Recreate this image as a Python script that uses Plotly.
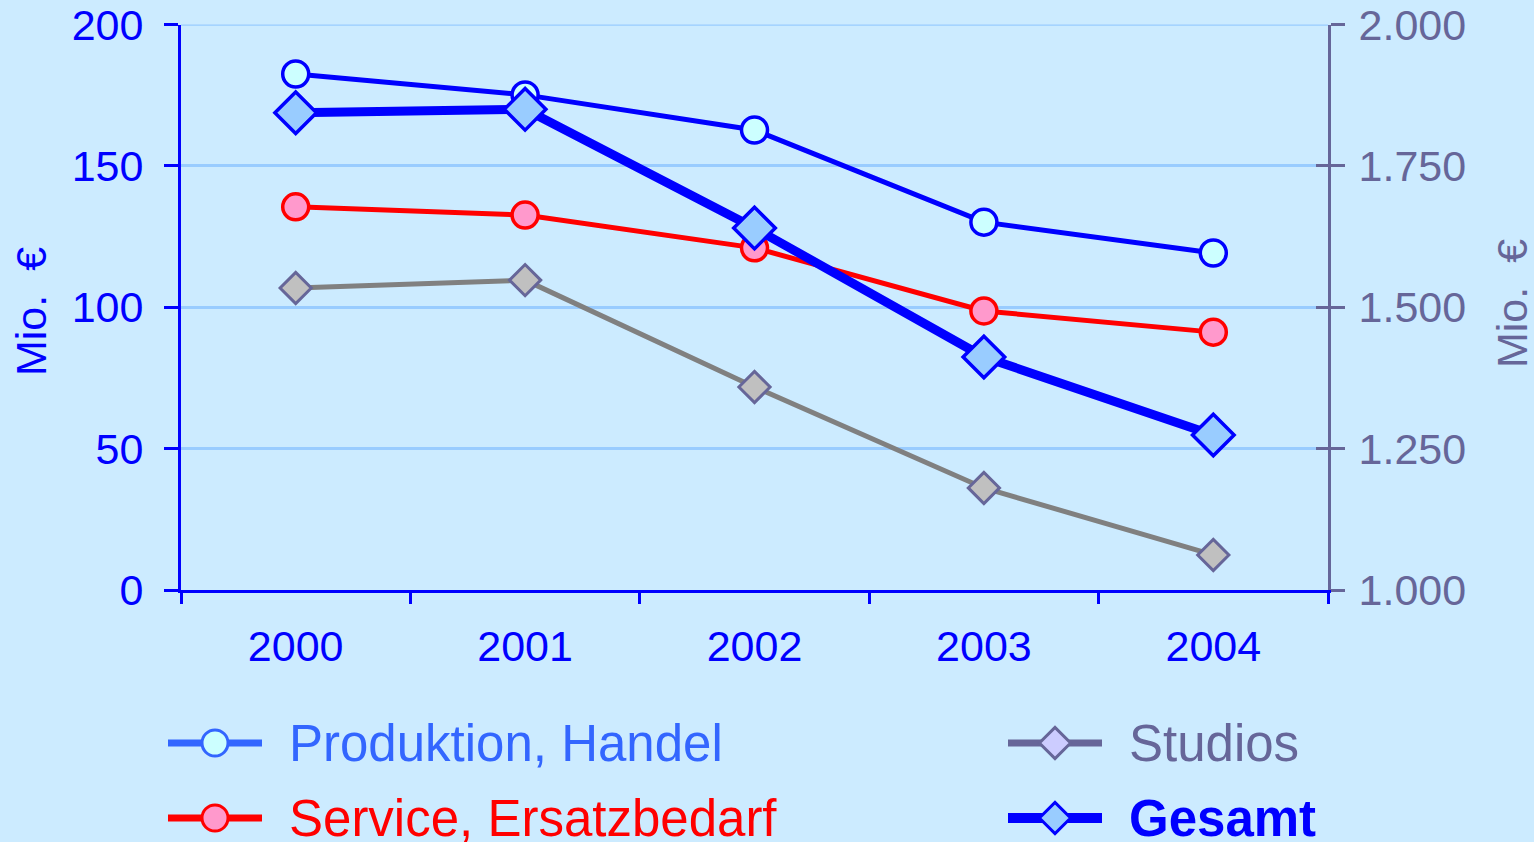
import plotly.graph_objects as go

# ---- data ----
years = ["2000", "2001", "2002", "2003", "2004"]
produktion = [182.5, 175.1, 162.7, 130.1, 119.2]
service = [135.5, 132.6, 121.0, 98.7, 91.2]
studios = [106.8, 109.6, 71.8, 36.1, 12.4]
gesamt = [1844, 1850, 1640, 1412, 1274]

left_ticks = [0, 50, 100, 150, 200]
right_ticks = [1000, 1250, 1500, 1750, 2000]

series_names = ["Produktion, Handel", "Service, Ersatzbedarf", "Studios", "Gesamt"]

# ---- styles ----
W, H = 1534, 842
BG = "#CCEBFF"
BLUE = "#0000FF"
RED = "#FF0000"
GRAYLINE = "#808080"
PURPLE = "#666699"
GRID = "#99CCFF"
FONT = "Arial, Liberation Sans, sans-serif"

plot_left, plot_right, plot_top, plot_bottom = 181, 1328, 24.5, 590

fig = go.Figure()

fig.add_trace(go.Scatter(
    x=years, y=studios, mode="lines+markers", name=series_names[2],
    line=dict(color=GRAYLINE, width=5),
    marker=dict(symbol="diamond", size=24, color="#C0C0C0", line=dict(color=PURPLE, width=3)),
    xaxis="x", yaxis="y"))
fig.add_trace(go.Scatter(
    x=years, y=service, mode="lines+markers", name=series_names[1],
    line=dict(color=RED, width=5),
    marker=dict(symbol="circle", size=26, color="#FF99CC", line=dict(color=RED, width=3.5)),
    xaxis="x", yaxis="y"))
fig.add_trace(go.Scatter(
    x=years, y=produktion, mode="lines+markers", name=series_names[0],
    line=dict(color=BLUE, width=5),
    marker=dict(symbol="circle", size=26, color="#CCFFFF", line=dict(color=BLUE, width=3.5)),
    xaxis="x", yaxis="y"))
fig.add_trace(go.Scatter(
    x=years, y=gesamt, mode="lines+markers", name=series_names[3],
    line=dict(color=BLUE, width=9),
    marker=dict(symbol="diamond", size=32, color="#99CCFF", line=dict(color=BLUE, width=3.5)),
    xaxis="x", yaxis="y2"))
# invisible trace so the inner-tick right axis is rendered
fig.add_trace(go.Scatter(x=[years[0]], y=[right_ticks[0]], mode="markers", marker=dict(opacity=0),
                         xaxis="x", yaxis="y4", showlegend=False, hoverinfo="skip"))

# ---- custom legend (drawn in a pixel-coordinate helper axis) ----
legend_items = [
    dict(name=series_names[0], col=0, row=0, line="#3366FF", fill="#CCFFFF", edge="#3366FF",
         sym="circle", size=26, lw=7, text="#3366FF", bold=False),
    dict(name=series_names[1], col=0, row=1, line=RED, fill="#FF99CC", edge=RED,
         sym="circle", size=26, lw=7, text=RED, bold=False),
    dict(name=series_names[2], col=1, row=0, line=PURPLE, fill="#CCCCFF", edge=PURPLE,
         sym="diamond", size=24, lw=7, text=PURPLE, bold=False),
    dict(name=series_names[3], col=1, row=1, line=BLUE, fill="#99CCFF", edge=BLUE,
         sym="diamond", size=24, lw=10, text=BLUE, bold=True),
]
col_x = [168, 1008]
row_y = [743, 818]
sw_len = 94
annotations = []
for it in legend_items:
    x0 = col_x[it["col"]]
    yc = row_y[it["row"]]
    fig.add_trace(go.Scatter(
        x=[x0, x0 + sw_len], y=[yc, yc], mode="lines",
        line=dict(color=it["line"], width=it["lw"]),
        xaxis="x3", yaxis="y3", showlegend=False, hoverinfo="skip"))
    fig.add_trace(go.Scatter(
        x=[x0 + sw_len / 2], y=[yc], mode="markers",
        marker=dict(symbol=it["sym"], size=it["size"], color=it["fill"],
                    line=dict(color=it["edge"], width=3)),
        xaxis="x3", yaxis="y3", showlegend=False, hoverinfo="skip"))
    txt = f"<b>{it['name']}</b>" if it["bold"] else it["name"]
    annotations.append(dict(
        x=x0 + sw_len + 25, y=yc, xref="x3", yref="y3", text=txt, showarrow=False,
        xanchor="left", yanchor="middle", font=dict(size=51, color=it["text"], family=FONT)))

# axis titles
annotations.append(dict(x=31 / W, y=1 - 312 / H, xref="paper", yref="paper", text="Mio.  €",
                        textangle=-90, showarrow=False, xanchor="center", yanchor="middle",
                        font=dict(size=43, color=BLUE, family=FONT)))
annotations.append(dict(x=1512 / W, y=1 - 304 / H, xref="paper", yref="paper", text="Mio.  €",
                        textangle=-90, showarrow=False, xanchor="center", yanchor="middle",
                        font=dict(size=43, color=PURPLE, family=FONT)))

xdom = [plot_left / W, plot_right / W]
ydom = [1 - plot_bottom / H, 1 - plot_top / H]

fig.update_layout(
    width=W, height=H,
    margin=dict(l=0, r=0, t=0, b=0, pad=0),
    paper_bgcolor=BG, plot_bgcolor="rgba(0,0,0,0)",
    showlegend=False, hovermode=False,
    separators=",.",
    font=dict(family=FONT),
    annotations=annotations,
    shapes=[dict(type="line", xref="x domain", x0=0, x1=1, yref="y", y0=left_ticks[-1], y1=left_ticks[-1],
                 line=dict(color=GRID, width=2.5), layer="below")],
    xaxis=dict(domain=xdom, type="category", anchor="y", range=[-0.5, 4.5],
               tickson="boundaries", ticks="outside", ticklen=11, tickwidth=3, tickcolor=BLUE,
               showline=True, linecolor=BLUE, linewidth=3, showgrid=False,
               tickfont=dict(size=43, color=BLUE, family=FONT), ticklabelstandoff=16,
               automargin=False, fixedrange=True),
    yaxis=dict(domain=ydom, anchor="x", range=[0, 200], tickvals=left_ticks,
               ticks="outside", ticklen=14, tickwidth=3, tickcolor=BLUE,
               showline=True, linecolor=BLUE, linewidth=3,
               showgrid=True, gridcolor=GRID, gridwidth=2.5, zeroline=False,
               tickfont=dict(size=43, color=BLUE, family=FONT), ticklabelstandoff=12,
               automargin=False, fixedrange=True),
    yaxis2=dict(anchor="x", overlaying="y", side="right", range=[1000, 2000],
                tickvals=right_ticks, tickformat=",d",
                ticks="outside", ticklen=14, tickwidth=3, tickcolor=PURPLE,
                showline=True, linecolor=PURPLE, linewidth=3, showgrid=False, zeroline=False,
                tickfont=dict(size=43, color=PURPLE, family=FONT), ticklabelstandoff=5,
                automargin=False, fixedrange=True),
    yaxis4=dict(anchor="x", overlaying="y", side="right", range=[1000, 2000],
                tickvals=right_ticks, ticks="inside", ticklen=12, tickwidth=3, tickcolor=PURPLE,
                showticklabels=False, showline=False, showgrid=False, zeroline=False,
                automargin=False, fixedrange=True),
    xaxis3=dict(domain=[0, 1], range=[0, W], visible=False, anchor="y3", fixedrange=True),
    yaxis3=dict(domain=[0, 1], range=[H, 0], visible=False, anchor="x3", fixedrange=True),
)

fig.write_html("out.html", config={"displayModeBar": False},
               post_script="document.body.style.margin='0';")
